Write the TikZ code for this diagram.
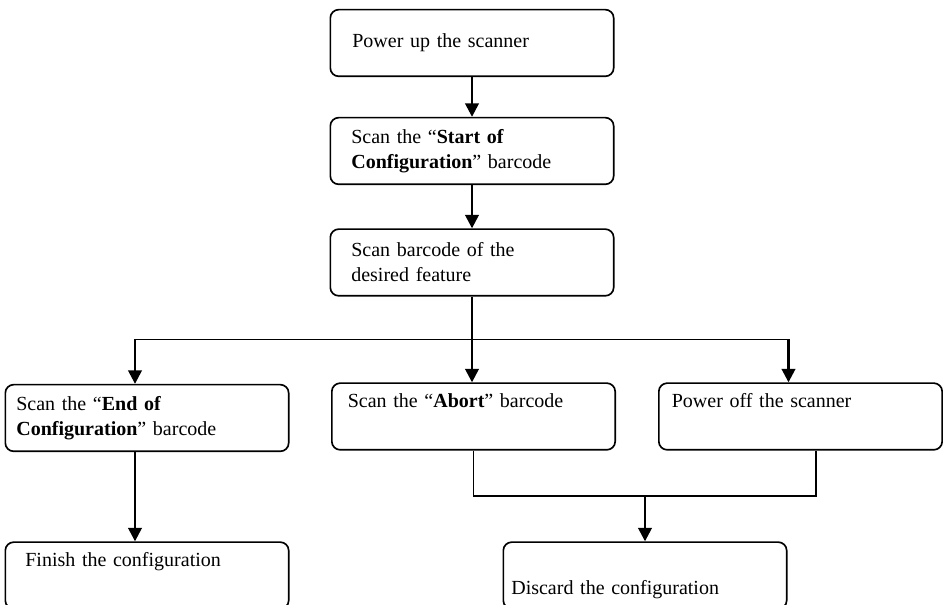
\documentclass[tikz,border=0pt]{standalone}
\usepackage{fontspec}
\setmainfont{Liberation Serif}
\usetikzlibrary{arrows.meta,positioning,calc}
\tikzset{
	stepbox/.code = {\pgfmathsetlengthmacro\boxtw{170pt-2*#1}%
		\pgfkeysalso{draw, rectangle, line width=1pt, rounded corners=5pt,
			minimum width=170pt, minimum height=40pt, inner ysep=0pt,
			inner xsep=#1, text width=\boxtw, align=left,
			font=\fontsize{12}{15}\selectfont}},
	flow/.style = {->, line width=1.5pt},
	bus/.style  = {line width=1pt},
	mergeline/.style = {line width=0.8pt}
}

\begin{document}
\begin{tikzpicture}[>={Triangle[length=8pt,width=8pt]}]
\useasboundingbox (0,0) rectangle (565.8pt,-363pt);

\node [stepbox=13.2pt] (power) at (283.2pt,-25.8pt) {Power up the scanner};
\node [stepbox=12.6pt, below of=power, node distance=64.8pt] (start) {Scan the “\textbf{Start of}\\\textbf{Configuration}” barcode};
\node [stepbox=12.6pt, below of=start, node distance=66.9pt] (feature) {Scan barcode of the\\desired feature};

\node [stepbox=6.6pt] (endcfg) at (88.2pt,-250.8pt) {Scan the “\textbf{End of}\\\textbf{Configuration}” barcode};
\node [stepbox=9.6pt] (abort) at (284.1pt,-249.9pt) {Scan the “\textbf{Abort}” barcode\\\strut};
\node [stepbox=7.8pt] (poweroff) at (480.3pt,-249.9pt) {Power off the scanner\\\strut};

\node [stepbox=12pt] (finish) at (88.2pt,-345.3pt) {Finish the configuration\\\strut};
\node [stepbox=4.8pt] (discard) at (387pt,-345.3pt) {\strut\\Discard the configuration};

% branch points
\coordinate (branch) at ($(feature.south)!0.5!(abort.north)$);
\coordinate (endin) at ([xshift=-7.2pt]endcfg.north);
\coordinate (offin) at ([xshift=-7.2pt]poweroff.north);
\coordinate (merge) at ($(abort.south)!0.5!(discard.north)$);
\coordinate (offout) at ([xshift=9.3pt]poweroff.south);

\draw [flow] (power) -- (start);
\draw [flow] (start) -- (feature);
\draw [flow] (feature.south) -- (feature.south |- abort.north);
\draw [bus] (endin |- branch) -- (offin |- branch);
\draw [flow] (endin |- branch) -- (endin);
\draw [flow] (offin |- branch) -- (offin);
\draw [flow] ([xshift=-7.2pt]endcfg.south) -- ([xshift=-7.2pt]finish.north);

\draw [mergeline] (abort.south) |- (offout |- merge) -- (offout);
\draw [flow] (discard.north |- merge) -- (discard.north);
\end{tikzpicture}
\end{document}
